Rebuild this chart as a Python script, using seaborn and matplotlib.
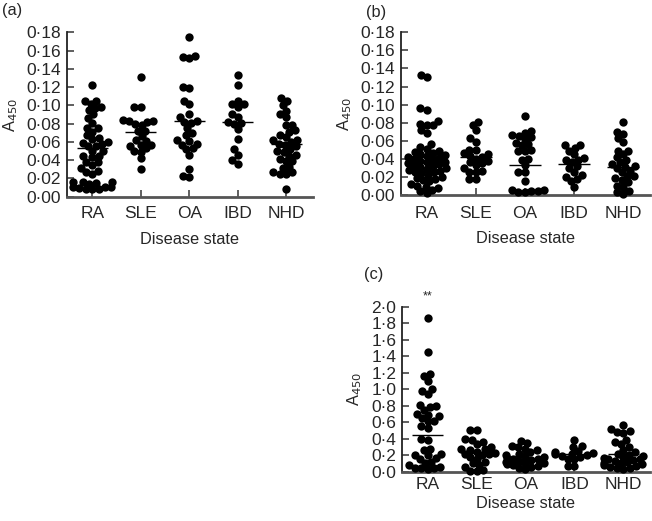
import warnings
warnings.filterwarnings("ignore")
import numpy as np
import pandas as pd
import matplotlib
matplotlib.use("Agg")
import matplotlib.pyplot as plt
import seaborn as sns

sns.set_style("ticks")
plt.rcParams['font.family'] = ['Liberation Sans', 'DejaVu Sans']

groups = ["RA", "SLE", "OA", "IBD", "NHD"]

# Panel (a)
a_RA = [0.122, 0.105, 0.105, 0.102, 0.098, 0.097, 0.095, 0.090, 0.086, 0.081, 0.075, 0.075,
        0.071, 0.067, 0.064, 0.063, 0.060, 0.059, 0.058, 0.056, 0.055, 0.050, 0.050, 0.045,
        0.044, 0.043, 0.038, 0.038, 0.035, 0.031, 0.028, 0.027, 0.025, 0.016, 0.016, 0.016,
        0.015, 0.014, 0.011, 0.011, 0.011, 0.009, 0.008, 0.008, 0.008]
a_SLE = [0.131, 0.098, 0.098, 0.084, 0.083, 0.083, 0.082, 0.080, 0.078, 0.072, 0.072, 0.066,
         0.062, 0.061, 0.057, 0.057, 0.055, 0.053, 0.050, 0.049, 0.042, 0.030]
a_OA = [0.175, 0.154, 0.153, 0.152, 0.120, 0.119, 0.105, 0.101, 0.090, 0.087, 0.083, 0.082,
        0.081, 0.075, 0.070, 0.067, 0.062, 0.061, 0.058, 0.057, 0.053, 0.052, 0.046, 0.030,
        0.023, 0.022]
a_IBD = [0.133, 0.122, 0.105, 0.101, 0.101, 0.098, 0.090, 0.087, 0.082, 0.081, 0.080, 0.074,
         0.063, 0.052, 0.046, 0.040, 0.036]
a_NHD = [0.108, 0.105, 0.100, 0.094, 0.090, 0.087, 0.079, 0.078, 0.073, 0.071, 0.068, 0.065,
         0.062, 0.062, 0.060, 0.058, 0.057, 0.055, 0.052, 0.050, 0.049, 0.046, 0.045, 0.041,
         0.039, 0.039, 0.033, 0.031, 0.027, 0.027, 0.025, 0.025, 0.008]
a_lines = [0.053, 0.071, 0.083, 0.082, 0.058]

# Panel (b)
b_RA = [0.133, 0.130, 0.096, 0.094, 0.082, 0.079, 0.077, 0.077, 0.072, 0.069, 0.056, 0.053,
        0.051, 0.049, 0.048, 0.046, 0.045, 0.044, 0.043, 0.042, 0.041, 0.040, 0.039, 0.038,
        0.037, 0.036, 0.035, 0.034, 0.033, 0.032, 0.031, 0.030, 0.029, 0.028, 0.027, 0.026,
        0.025, 0.024, 0.022, 0.020, 0.019, 0.018, 0.017, 0.015, 0.012, 0.010, 0.009, 0.008,
        0.006, 0.004, 0.002]
b_SLE = [0.081, 0.078, 0.072, 0.063, 0.059, 0.050, 0.050, 0.046, 0.045, 0.043, 0.042, 0.040,
         0.038, 0.036, 0.035, 0.033, 0.030, 0.027, 0.026, 0.025, 0.018, 0.018]
b_OA = [0.087, 0.071, 0.069, 0.066, 0.065, 0.064, 0.062, 0.058, 0.056, 0.055, 0.050, 0.049,
        0.049, 0.040, 0.039, 0.033, 0.026, 0.026, 0.016, 0.006, 0.005, 0.004, 0.004, 0.003,
        0.003]
b_IBD = [0.055, 0.055, 0.052, 0.049, 0.045, 0.041, 0.039, 0.039, 0.036, 0.032, 0.030, 0.026,
         0.022, 0.020, 0.018, 0.015, 0.009]
b_NHD = [0.081, 0.070, 0.067, 0.063, 0.059, 0.049, 0.049, 0.045, 0.042, 0.039, 0.036, 0.034,
         0.032, 0.031, 0.030, 0.027, 0.025, 0.021, 0.021, 0.019, 0.017, 0.014, 0.010, 0.009,
         0.004, 0.003, 0.001]
b_lines = [0.042, 0.042, 0.033, 0.034, 0.031]

# Panel (c)
c_RA = [1.86, 1.45, 1.18, 1.16, 1.10, 1.00, 0.98, 0.94, 0.81, 0.80, 0.78, 0.75, 0.70, 0.69,
        0.67, 0.65, 0.62, 0.61, 0.55, 0.53, 0.40, 0.38, 0.28, 0.26, 0.22, 0.20, 0.20, 0.17,
        0.15, 0.12, 0.10, 0.08, 0.06, 0.05, 0.04, 0.04, 0.03]
c_SLE = [0.51, 0.50, 0.40, 0.38, 0.36, 0.33, 0.30, 0.28, 0.27, 0.26, 0.24, 0.23, 0.22, 0.21,
         0.20, 0.18, 0.16, 0.12, 0.10, 0.08, 0.06, 0.02, 0.01, 0.01]
c_OA = [0.37, 0.35, 0.31, 0.30, 0.28, 0.26, 0.24, 0.22, 0.20, 0.19, 0.18, 0.17, 0.16, 0.15,
        0.14, 0.13, 0.12, 0.11, 0.10, 0.09, 0.08, 0.07, 0.06, 0.05, 0.03]
c_IBD = [0.39, 0.31, 0.30, 0.25, 0.24, 0.23, 0.22, 0.21, 0.20, 0.19, 0.18, 0.16, 0.15, 0.07,
         0.07]
c_NHD = [0.57, 0.52, 0.49, 0.48, 0.47, 0.38, 0.36, 0.33, 0.30, 0.26, 0.24, 0.22, 0.20, 0.19,
         0.18, 0.17, 0.16, 0.15, 0.14, 0.13, 0.12, 0.11, 0.10, 0.09, 0.08, 0.07, 0.06, 0.05,
         0.04, 0.03]
c_lines = [0.45, 0.23, 0.16, 0.21, 0.21]

ab_ticks = [0.00, 0.02, 0.04, 0.06, 0.08, 0.10, 0.12, 0.14, 0.16, 0.18]
ab_ticklabels = ["0·00", "0·02", "0·04", "0·06", "0·08", "0·10", "0·12", "0·14", "0·16", "0·18"]
c_ticks = [0.0, 0.2, 0.4, 0.6, 0.8, 1.0, 1.2, 1.4, 1.6, 1.8, 2.0]
c_ticklabels = ["0·0", "0·2", "0·4", "0·6", "0·8", "1·0", "1·2", "1·4", "1·6", "1·8", "2·0"]


def make_df(lists):
    rows = []
    for g, vals in zip(groups, lists):
        for v in vals:
            rows.append((g, v))
    return pd.DataFrame(rows, columns=["group", "value"])


fig = plt.figure(figsize=(6.52, 5.21), dpi=100)
ax_a = fig.add_axes([0.1023, 0.6225, 0.3773, 0.3156])
ax_b = fig.add_axes([0.6146, 0.6257, 0.3824, 0.3123])
ax_c = fig.add_axes([0.6161, 0.0946, 0.3810, 0.3167])

TFS = 12.5
LFS = 11.8
panels = [
    (ax_a, [a_RA, a_SLE, a_OA, a_IBD, a_NHD], a_lines, ab_ticks, ab_ticklabels, 0.18, 7.0, 7.5),
    (ax_b, [b_RA, b_SLE, b_OA, b_IBD, b_NHD], b_lines, ab_ticks, ab_ticklabels, 0.18, 8.0, 7.0),
    (ax_c, [c_RA, c_SLE, c_OA, c_IBD, c_NHD], c_lines, c_ticks, c_ticklabels, 2.0, 4.0, 2.5),
]

swarm_colls = []
for ax, lists, lines, ticks, tlabels, ymax, xpad, lpad in panels:
    df = make_df(lists)
    sns.swarmplot(data=df, x="group", y="value", order=groups, color="black",
                  size=4.5, ax=ax, zorder=3)
    swarm_colls.extend(ax.collections)
    for i, m in enumerate(lines):
        ax.hlines(m, i - 0.32, i + 0.32, color="black", lw=1.0, zorder=4)
    ax.set_xlim(-0.53, 4.55)
    ax.set_ylim(0, ymax)
    ax.set_yticks(ticks)
    ax.set_yticklabels(tlabels)
    ax.set_xlabel("Disease state", fontsize=LFS, labelpad=lpad)
    ax.set_ylabel("A$_{450}$", fontsize=LFS, labelpad=5)
    ax.tick_params(axis="both", direction="in", labelsize=TFS, length=5, width=1.2,
                   color="#444444")
    ax.tick_params(axis="y", pad=4)
    ax.tick_params(axis="x", pad=xpad)
    for s in ["top", "right"]:
        ax.spines[s].set_visible(False)
    ax.spines["left"].set_color("#222222")
    ax.spines["left"].set_linewidth(1.3)
    ax.spines["bottom"].set_color("#555555")
    ax.spines["bottom"].set_linewidth(2.0)
    ax.set_facecolor("white")

fig.text(2 / 652, 1 - 10 / 521, "(a)", fontsize=LFS, ha="left", va="center")
fig.text(366 / 652, 1 - 13 / 521, "(b)", fontsize=LFS, ha="left", va="center")
fig.text(364 / 652, 1 - 274 / 521, "(c)", fontsize=LFS, ha="left", va="center")
ax_c.text(0, 2.05, "**", fontsize=9, ha="center", va="bottom")

# Compute the compact swarm layout, then freeze it and enlarge the dots
fig.canvas.draw()
for coll in swarm_colls:
    if "draw" in coll.__dict__:
        del coll.draw
    coll.set_clip_on(False)
    coll.set_sizes([36])

fig.savefig("out.png", dpi=100, facecolor="white")
